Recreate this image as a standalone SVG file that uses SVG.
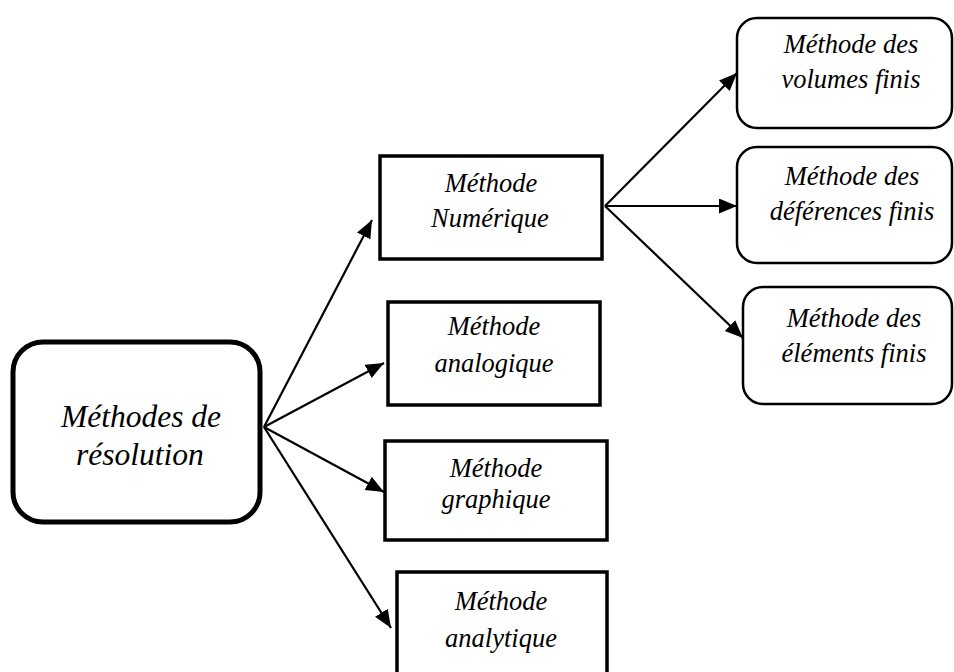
<svg xmlns="http://www.w3.org/2000/svg" width="954" height="672" viewBox="0 0 954 672">
<style>
.t{font-family:"Liberation Serif","Times New Roman",serif;font-style:italic;fill:#000;text-anchor:middle}
.s{font-size:26.5px}
.b{font-size:31.5px}
.box{fill:#fff;stroke:#000;stroke-width:3.5}
.rbox{fill:#fff;stroke:#000;stroke-width:2.5}
.c{stroke:#000;stroke-width:2.2;fill:none}
</style>
<defs>
<marker id="ah" markerUnits="userSpaceOnUse" markerWidth="20" markerHeight="16" refX="18" refY="7.5" orient="auto">
<path d="M0,0 L18,7.5 L0,15 z" fill="#000"/>
</marker>
</defs>
<rect width="954" height="672" fill="#fff"/>
<g id="connectors">
<line class="c" x1="264" y1="427" x2="372" y2="220" marker-end="url(#ah)"/>
<line class="c" x1="264" y1="427" x2="384" y2="363" marker-end="url(#ah)"/>
<line class="c" x1="264" y1="427" x2="384" y2="492" marker-end="url(#ah)"/>
<line class="c" x1="264" y1="427" x2="391" y2="628" marker-end="url(#ah)"/>
<line class="c" x1="605" y1="206" x2="737" y2="73" marker-end="url(#ah)"/>
<line class="c" x1="605" y1="206" x2="737" y2="206" marker-end="url(#ah)"/>
<line class="c" x1="605" y1="206" x2="743" y2="338" marker-end="url(#ah)"/>
</g>
<g id="root">
<rect x="13" y="342" width="247" height="180" rx="30" fill="#fff" stroke="#000" stroke-width="5"/>
<text class="t b" x="141" y="427">Méthodes de</text>
<text class="t b" x="140" y="465">résolution</text>
</g>
<g id="numerique">
<rect class="box" x="380" y="156" width="222" height="103"/>
<text class="t s" x="491" y="192">Méthode</text>
<text class="t s" x="490" y="227">Numérique</text>
</g>
<g id="analogique">
<rect class="box" x="388" y="302" width="212" height="103"/>
<text class="t s" x="494" y="335">Méthode</text>
<text class="t s" x="494" y="372">analogique</text>
</g>
<g id="graphique">
<rect class="box" x="385" y="441" width="222" height="99"/>
<text class="t s" x="496" y="477">Méthode</text>
<text class="t s" x="496" y="508">graphique</text>
</g>
<g id="analytique">
<rect class="box" x="397" y="572" width="210" height="110"/>
<text class="t s" x="501" y="610">Méthode</text>
<text class="t s" x="501" y="647">analytique</text>
</g>
<g id="volumes">
<rect class="rbox" x="737" y="18" width="215" height="110" rx="20"/>
<text class="t s" x="851" y="53">Méthode des</text>
<text class="t s" x="851" y="88">volumes finis</text>
</g>
<g id="differences">
<rect class="rbox" x="737" y="147" width="215" height="116" rx="20"/>
<text class="t s" x="852" y="185">Méthode des</text>
<text class="t s" x="852" y="220">déférences finis</text>
</g>
<g id="elements">
<rect class="rbox" x="743" y="287" width="209" height="117" rx="20"/>
<text class="t s" x="854" y="327">Méthode des</text>
<text class="t s" x="854" y="362">éléments finis</text>
</g>
</svg>
